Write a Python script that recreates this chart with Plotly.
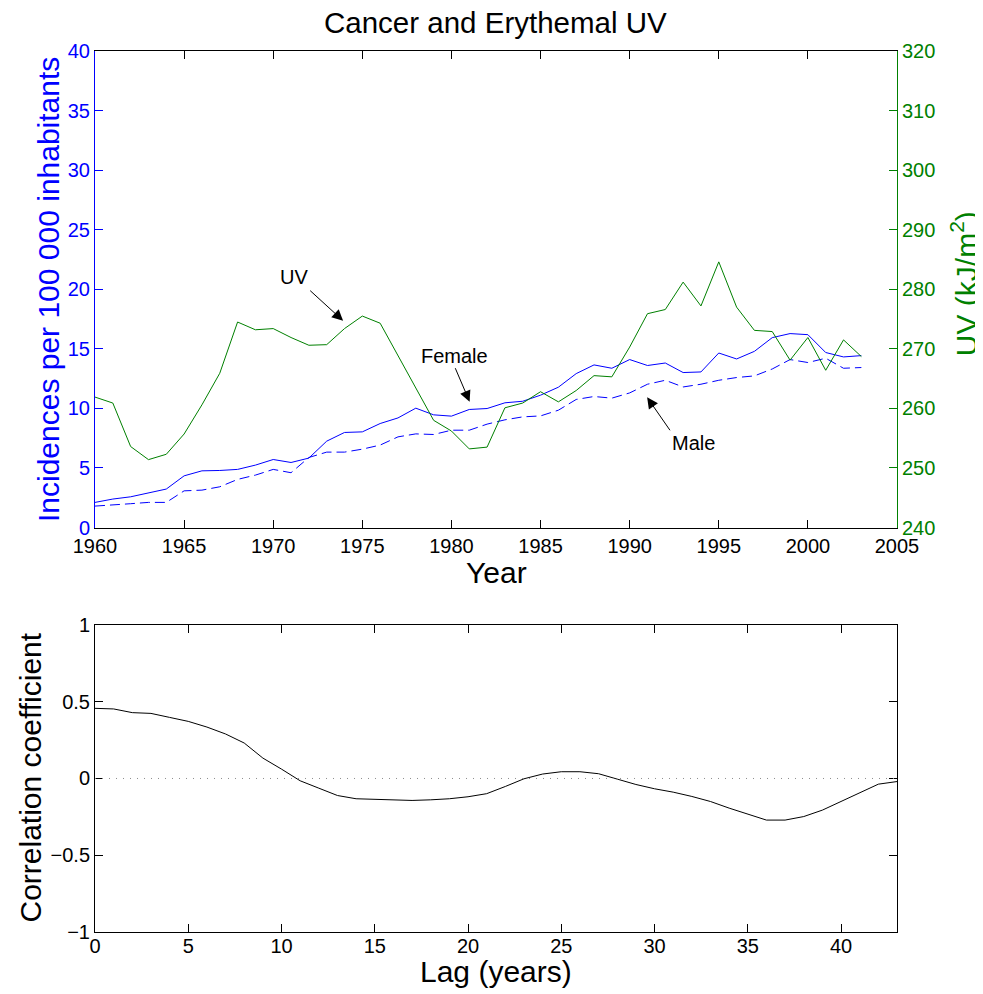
import plotly.graph_objects as go

# ---- data ----
years = list(range(1960, 2004))

female = [2.11, 2.39, 2.58, 2.89, 3.23, 4.34, 4.76, 4.79, 4.88, 5.24,
          5.71, 5.46, 5.83, 7.25, 7.98, 8.03, 8.73, 9.20, 10.02, 9.46,
          9.35, 9.91, 9.99, 10.47, 10.60, 11.11, 11.78, 12.92, 13.65, 13.37,
          14.10, 13.60, 13.81, 13.01, 13.06, 14.65, 14.15, 14.79, 15.94, 16.28,
          16.19, 14.69, 14.32, 14.43]

male = [1.80, 1.87, 2.00, 2.11, 2.11, 3.08, 3.14, 3.42, 4.04, 4.40,
        4.88, 4.60, 5.88, 6.33, 6.33, 6.58, 6.92, 7.61, 7.86, 7.81,
        8.17, 8.17, 8.68, 9.04, 9.29, 9.37, 9.85, 10.75, 11.00, 10.86,
        11.30, 12.03, 12.36, 11.80, 12.03, 12.36, 12.59, 12.73, 13.31, 14.10,
        13.85, 14.21, 13.37, 13.43]

uv = [261.9, 260.9, 253.6, 251.4, 252.3, 255.7, 260.6, 265.9, 274.5, 273.2,
      273.4, 271.9, 270.6, 270.7, 273.4, 275.5, 274.3, 268.9, 263.5, 258.0,
      256.2, 253.2, 253.5, 260.1, 260.9, 262.8, 261.1, 263.0, 265.5, 265.3,
      270.3, 275.9, 276.6, 281.2, 277.2, 284.6, 277.0, 273.1, 272.9, 268.1,
      271.9, 266.4, 271.5, 268.7]

lags = list(range(0, 44))
corr = [0.457, 0.453, 0.429, 0.424, 0.398, 0.372, 0.335, 0.290, 0.231, 0.133,
        0.061, -0.015, -0.063, -0.111, -0.132, -0.137, -0.141, -0.143, -0.139, -0.132,
        -0.119, -0.099, -0.052, -0.002, 0.029, 0.044, 0.044, 0.031, -0.004, -0.039,
        -0.067, -0.089, -0.117, -0.150, -0.193, -0.232, -0.271, -0.271, -0.248, -0.206,
        -0.150, -0.089, -0.037, -0.020]

year_ticks = list(range(1960, 2006, 5))
inc_ticks = list(range(0, 41, 5))
uv_ticks = list(range(240, 321, 10))
lag_ticks = list(range(0, 41, 5))
corr_ticks = [-1, -0.5, 0, 0.5, 1]

BLUE = "#0000ff"
GREEN = "#008000"
FONT = "Liberation Sans, Arial, sans-serif"

fig = go.Figure()

fig.add_trace(go.Scatter(x=years, y=female, mode="lines", name="Female",
                         line=dict(color=BLUE, width=1), xaxis="x", yaxis="y"))
fig.add_trace(go.Scatter(x=years, y=male, mode="lines", name="Male",
                         line=dict(color=BLUE, width=1, dash="10px,5px"), xaxis="x", yaxis="y"))
fig.add_trace(go.Scatter(x=years, y=uv, mode="lines", name="UV",
                         line=dict(color=GREEN, width=1), xaxis="x", yaxis="y2"))
fig.add_trace(go.Scatter(x=lags, y=corr, mode="lines", name="corr",
                         line=dict(color="black", width=1), xaxis="x2", yaxis="y3"))

axis_common = dict(showgrid=False, zeroline=False, showline=True, ticks="inside",
                   ticklen=8, tickwidth=1, automargin=False)

# the page body adds an 8px offset, so margins are reduced by 8 on the top/left
fig.update_layout(
    template="none",
    width=983, height=994,
    margin=dict(l=87, r=94, t=43, b=70),
    showlegend=False,
    plot_bgcolor="white", paper_bgcolor="white",
    font=dict(family=FONT, size=20, color="black"),
    xaxis=dict(**axis_common, domain=[0, 1], anchor="y", range=[1960, 2005],
               tickvals=year_ticks, linecolor="black", tickcolor="black",
               mirror="ticks", tickfont=dict(size=20, color="black")),
    yaxis=dict(**axis_common, domain=[0.4591, 1], anchor="x", range=[0, 40],
               tickvals=inc_ticks, linecolor=BLUE, tickcolor=BLUE, mirror="ticks",
               tickfont=dict(size=20, color=BLUE)),
    yaxis2=dict(**axis_common, overlaying="y", side="right", anchor="x", range=[240, 320],
                tickvals=uv_ticks, linecolor=GREEN, tickcolor=GREEN,
                tickfont=dict(size=20, color=GREEN)),
    xaxis2=dict(**axis_common, domain=[0, 1], anchor="y3", range=[0, 43],
                tickvals=lag_ticks, linecolor="black", tickcolor="black", mirror="ticks",
                tickfont=dict(size=20, color="black"), ticklabelstandoff=-4),
    yaxis3=dict(**axis_common, domain=[0, 0.3485], anchor="x2", range=[-1, 1],
                tickvals=corr_ticks, ticktext=["\u22121", "\u22120.5", "0", "0.5", "1"],
                linecolor="black", tickcolor="black", mirror="ticks",
                tickfont=dict(size=20, color="black")),
)

# dotted zero reference on the correlation panel
fig.add_shape(type="line", xref="x2 domain", yref="y3", x0=0, x1=1, y0=0, y1=0,
              line=dict(color="#8c8c8c", width=1, dash="1px,6px"))

# titles as paper annotations
titles = [
    dict(text="Cancer and Erythemal UV", x=0.4988, y=1.0329, size=29.5, color="black", angle=0),
    dict(text="Year", x=0.5, y=0.4086, size=30, color="black", angle=0),
    dict(text="Incidences per 100 000 inhabitants", x=-0.0586, y=0.7287, size=30, color=BLUE, angle=-90),
    dict(text="UV (kJ/m<sup>2</sup>)", x=1.083, y=0.736, size=30, color=GREEN, angle=-90),
    dict(text="Lag (years)", x=0.5, y=-0.0443, size=30, color="black", angle=0),
    dict(text="Correlation coefficient", x=-0.081, y=0.1754, size=30, color="black", angle=-90),
]
for t in titles:
    fig.add_annotation(text=t["text"], xref="paper", yref="paper", x=t["x"], y=t["y"],
                       xanchor="center", yanchor="middle", showarrow=False,
                       textangle=t["angle"], font=dict(size=t["size"], color=t["color"], family=FONT))

# labels with arrows on the top panel
labels = [
    ("UV", 1971.14, 21.06, (1971.99, 20.0), (1973.92, 17.36)),
    ("Female", 1980.16, 14.40, (1980.18, 13.50), (1981.02, 10.56)),
    ("Male", 1993.56, 7.07, (1992.32, 8.04), (1990.98, 10.93)),
]
for text, tx, ty, tail, head in labels:
    fig.add_annotation(text=text, x=tx, y=ty, xref="x", yref="y", showarrow=False,
                       xanchor="center", yanchor="middle", font=dict(size=20, color="black"))
    fig.add_annotation(text="", x=head[0], y=head[1], ax=tail[0], ay=tail[1],
                       xref="x", yref="y", axref="x", ayref="y", showarrow=True,
                       arrowhead=2, arrowsize=2.2, arrowwidth=1, arrowcolor="black")

fig.write_html("out.html")
